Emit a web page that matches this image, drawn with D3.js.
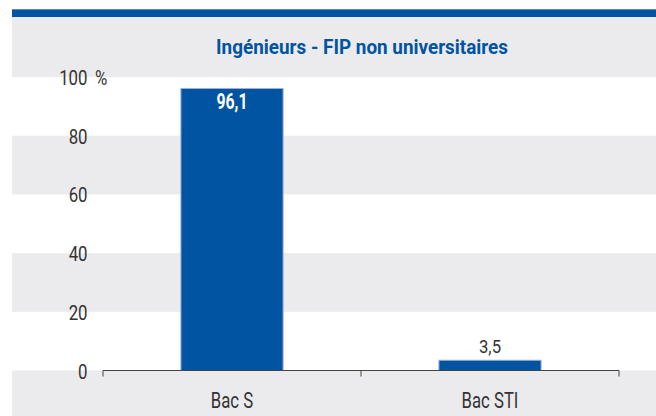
<!DOCTYPE html>
<html><head><meta charset="utf-8">
<script src="https://cdn.jsdelivr.net/npm/d3@7"></script>
<style>
html,body{margin:0;padding:0;background:#fff;}
svg{display:block;}
text{font-family:"Roboto","Liberation Sans",sans-serif;}
</style></head>
<body>
<svg id="c" width="656" height="416"></svg>
<script>
const title = "Ingénieurs - FIP non universitaires";
const categories = ["Bac S", "Bac STI"];
const values = [96.1, 3.5];
const valueLabels = ["96,1", "3,5"];
const yTicks = [0, 20, 40, 60, 80, 100];
const yTickLabels = ["0", "20", "40", "60", "80", "100"];

const svg = d3.select("#c");
const W = 656, H = 416;
const blue = "#0054a2";

function label(px, py, txt, size, weight, anchor, fill, k) {
  return svg.append("text")
    .attr("transform", `translate(${px},${py}) scale(${k},1)`)
    .attr("text-anchor", anchor).attr("font-size", size)
    .attr("font-weight", weight).attr("fill", fill).text(txt);
}

// panel background
svg.append("rect").attr("x", 12).attr("y", 17).attr("width", W - 12).attr("height", H - 17).attr("fill", "#ebebee");
// top bar
svg.append("rect").attr("x", 12).attr("y", 9).attr("width", W - 12).attr("height", 8).attr("fill", blue);
svg.append("rect").attr("x", 12).attr("y", 9).attr("width", W - 12).attr("height", 1).attr("fill", "#5b86c2");

const x = d3.scaleBand().domain(categories).range([103, 619]).paddingInner(0.6).paddingOuter(0.3);
const y = d3.scaleLinear().domain([0, 100]).range([370.5, 77]);

// alternating white bands
const bands = [];
for (let i = 0; i < yTicks.length - 1; i += 2) bands.push([yTicks[i], yTicks[i + 1]]);
svg.append("g").selectAll("rect").data(bands).join("rect")
  .attr("x", 12).attr("width", W - 12)
  .attr("y", d => y(d[1])).attr("height", d => y(d[0]) - y(d[1]))
  .attr("fill", "#ffffff");

// title
label(362, 54, title, 21, "bold", "middle", blue, 0.9);

// y labels
yTicks.forEach((t, i) => {
  label(87.5, y(t) + 8, yTickLabels[i], 21, "normal", "end", "#333", 0.8);
  if (t === 100) label(95, y(t) + 8, "%", 21, "normal", "start", "#333", 0.8);
});

// bars
svg.append("g").selectAll("rect").data(values).join("rect")
  .attr("x", (d, i) => x(categories[i]) + 0.5)
  .attr("width", x.bandwidth() - 1)
  .attr("y", d => y(d))
  .attr("height", d => y(0) - y(d))
  .attr("fill", blue).attr("stroke", "#9fb3d9").attr("stroke-width", 1);

// value labels
values.forEach((v, i) => {
  const cx = x(categories[i]) + x.bandwidth() / 2;
  if (v > 20) label(cx, y(v) + 21, valueLabels[i], 22, "bold", "middle", "#fff", 0.72);
  else label(cx, y(v) - 7, valueLabels[i], 19, "normal", "middle", "#333", 0.88);
});

// x axis
const xAxis = d3.axisBottom(x).tickSize(0).tickFormat("");
const gx = svg.append("g").attr("transform", "translate(0,370.5)").call(xAxis);
gx.select(".domain").attr("stroke", "#444").attr("d", "M103,0H619");
const bounds = [103, (x(categories[0]) + x.bandwidth() + x(categories[1])) / 2, 619];
gx.selectAll("line.sep").data(bounds).join("line").attr("class", "sep")
  .attr("x1", d => d).attr("x2", d => d).attr("y1", 0).attr("y2", 6).attr("stroke", "#444");
categories.forEach(c => {
  label(x(c) + x.bandwidth() / 2, 408, c, 22, "normal", "middle", "#333", 0.76);
});
</script>
</body></html>
